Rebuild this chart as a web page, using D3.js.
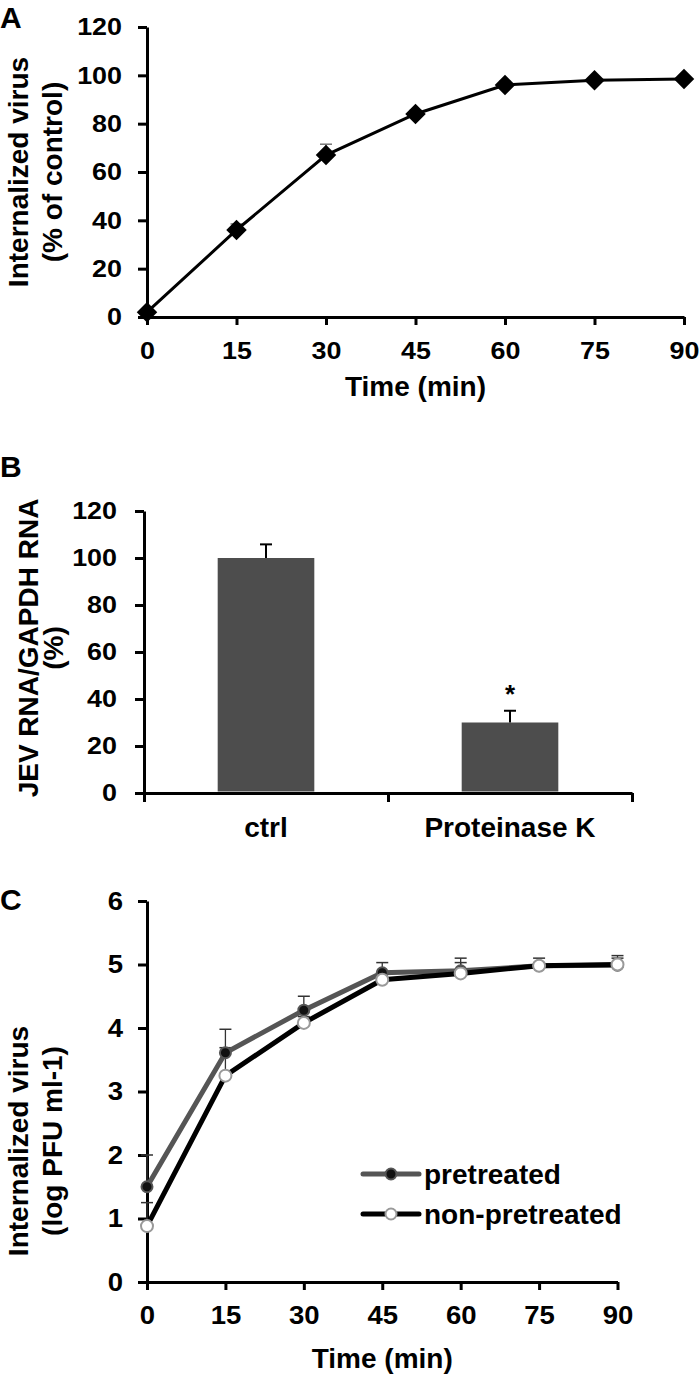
<!DOCTYPE html>
<html>
<head>
<meta charset="utf-8">
<script src="https://cdn.jsdelivr.net/npm/d3@7"></script>
<style>
  html, body { margin: 0; padding: 0; background: #fff; }
  svg text { font-family: "Liberation Sans", Arial, Helvetica, sans-serif; font-weight: bold; fill: #000; }
</style>
</head>
<body>
<svg id="chart" width="700" height="1374"></svg>
<script>
// ---------- Data ----------
const aTime = [0, 15, 30, 45, 60, 75, 90];
const aValues = [2, 36, 67, 84, 96, 98, 98.5];
const aErrors = [0.5, 2.5, 4.5, 1.5, 1.5, 1, 1];
const aYTicks = [0, 20, 40, 60, 80, 100, 120];

const bCategories = ["ctrl", "Proteinase K"];
const bValues = [100, 30];
const bErrors = [5.8, 5];
const bYTicks = [0, 20, 40, 60, 80, 100, 120];

const cTime = [0, 15, 30, 45, 60, 75, 90];
const cPretreated = [1.5, 3.61, 4.28, 4.87, 4.9, 4.98, 4.99];
const cPretreatedErr = [0.5, 0.37, 0.22, 0.16, 0.2, 0.12, 0.15];
const cNonPretreated = [0.88, 3.25, 4.08, 4.76, 4.86, 4.98, 5.0];
const cNonPretreatedErr = [0.37, 0.44, 0.1, 0.1, 0.17, 0.05, 0.1];
const cYTicks = [0, 1, 2, 3, 4, 5, 6];
const timeTicks = [0, 15, 30, 45, 60, 75, 90];

const svg = d3.select("#chart");

// axis styling; tick labels are slightly stretched horizontally like the original
function styleAxis(g, fontSize, stretch) {
  g.attr("font-size", fontSize).attr("font-family", "'Liberation Sans', Arial, sans-serif");
  g.select(".domain").attr("stroke", "#000").attr("stroke-width", 3);
  g.selectAll(".tick line").attr("stroke", "#000").attr("stroke-width", 3);
  g.selectAll(".tick text").attr("font-size", fontSize)
    .attr("font-weight", "bold").attr("fill", "#000")
    .attr("x", function () { return (+this.getAttribute("x") || 0) / stretch; })
    .attr("transform", `scale(${stretch},1)`);
}

function yTitle(g, lines, xs, cy) {
  lines.forEach((t, i) => {
    g.append("text")
      .attr("transform", `translate(${xs[i]},${cy}) rotate(-90)`)
      .attr("text-anchor", "middle")
      .attr("font-size", 28)
      .text(t);
  });
}

// ---------- Panel A ----------
{
  const g = svg.append("g");
  const x = d3.scaleLinear().domain([0, 90]).range([147, 684]);
  const y = d3.scaleLinear().domain([0, 120]).range([317, 27]);

  g.append("text").attr("x", 0).attr("y", 28).attr("font-size", 30).text("A");

  const ya = g.append("g").attr("transform", `translate(${x(0)},0)`)
    .call(d3.axisLeft(y).tickValues(aYTicks).tickFormat(d3.format("d")).tickSize(9).tickSizeOuter(0).tickPadding(16));
  styleAxis(ya, 24, 1.12);
  const xa = g.append("g").attr("transform", `translate(0,${y(0)})`)
    .call(d3.axisBottom(x).tickValues(timeTicks).tickFormat(d3.format("d")).tickSize(8).tickSizeOuter(0).tickPadding(17));
  styleAxis(xa, 24, 1.12);

  yTitle(g, ["Internalized virus", "(% of control)"], [28, 62], 172);
  g.append("text").attr("x", (x(0) + x(90)) / 2).attr("y", 396)
    .attr("text-anchor", "middle").attr("font-size", 28).text("Time (min)");

  // error bars
  aTime.forEach((t, i) => {
    const top = y(aValues[i] + aErrors[i]);
    g.append("line").attr("x1", x(t)).attr("x2", x(t)).attr("y1", y(aValues[i])).attr("y2", top)
      .attr("stroke", "#777").attr("stroke-width", 1.5);
    g.append("line").attr("x1", x(t) - 6).attr("x2", x(t) + 6).attr("y1", top).attr("y2", top)
      .attr("stroke", "#777").attr("stroke-width", 1.5);
  });

  const line = d3.line().x((d, i) => x(aTime[i])).y(d => y(d));
  g.append("path").datum(aValues).attr("d", line)
    .attr("fill", "none").attr("stroke", "#000").attr("stroke-width", 3);

  g.selectAll(".dm").data(aValues).enter().append("path")
    .attr("d", d3.symbol().type(d3.symbolSquare).size(210))
    .attr("transform", (d, i) => `translate(${x(aTime[i])},${y(d)}) rotate(45)`)
    .attr("fill", "#000");
}

// ---------- Panel B ----------
{
  const g = svg.append("g");
  const x = d3.scaleBand().domain(bCategories).range([144, 632]).paddingInner(0).paddingOuter(0);
  const y = d3.scaleLinear().domain([0, 120]).range([793, 511]);

  g.append("text").attr("x", 0).attr("y", 477).attr("font-size", 30).text("B");

  const ya = g.append("g").attr("transform", `translate(${x.range()[0]},0)`)
    .call(d3.axisLeft(y).tickValues(bYTicks).tickFormat(d3.format("d")).tickSize(9).tickSizeOuter(0).tickPadding(18));
  styleAxis(ya, 24, 1.12);

  // x axis: ticks at band boundaries
  const boundaries = [0, 1, 2];
  const xb = d3.scaleLinear().domain([0, 2]).range(x.range());
  const xa = g.append("g").attr("transform", `translate(0,${y(0)})`)
    .call(d3.axisBottom(xb).tickValues(boundaries).tickSize(9).tickSizeOuter(0).tickFormat(""));
  styleAxis(xa, 24, 1);

  // category labels
  g.selectAll(".cat").data(bCategories).enter().append("text")
    .attr("x", d => x(d) + x.bandwidth() / 2).attr("y", 837)
    .attr("text-anchor", "middle").attr("font-size", 28).text(d => d);

  const bw = x.bandwidth() * 0.396;
  g.selectAll(".bar").data(bValues).enter().append("rect")
    .attr("x", (d, i) => x(bCategories[i]) + x.bandwidth() / 2 - bw / 2)
    .attr("width", bw)
    .attr("y", d => y(d))
    .attr("height", d => y(0) - y(d) - 1.5)
    .attr("fill", "#4d4d4d");

  bValues.forEach((v, i) => {
    const cx = x(bCategories[i]) + x.bandwidth() / 2;
    const top = y(v + bErrors[i]);
    g.append("line").attr("x1", cx).attr("x2", cx).attr("y1", y(v)).attr("y2", top)
      .attr("stroke", "#000").attr("stroke-width", 2);
    g.append("line").attr("x1", cx - 6).attr("x2", cx + 6).attr("y1", top).attr("y2", top)
      .attr("stroke", "#000").attr("stroke-width", 2);
  });

  // significance marker
  const pk = bCategories[1];
  g.append("text").attr("x", x(pk) + x.bandwidth() / 2).attr("y", 703)
    .attr("text-anchor", "middle").attr("font-size", 26).text("*");

  yTitle(g, ["JEV RNA/GAPDH RNA", "(%)"], [38, 63], 648);
}

// ---------- Panel C ----------
{
  const g = svg.append("g");
  const x = d3.scaleLinear().domain([0, 90]).range([147, 617.5]);
  const y = d3.scaleLinear().domain([0, 6]).range([1282, 901]);

  g.append("text").attr("x", 0).attr("y", 910).attr("font-size", 30).text("C");

  const ya = g.append("g").attr("transform", `translate(${x(0)},0)`)
    .call(d3.axisLeft(y).tickValues(cYTicks).tickFormat(d3.format("d")).tickSize(9).tickSizeOuter(0).tickPadding(15));
  styleAxis(ya, 25, 1.1);
  const xa = g.append("g").attr("transform", `translate(0,${y(0)})`)
    .call(d3.axisBottom(x).tickValues(timeTicks).tickFormat(d3.format("d")).tickSize(8).tickSizeOuter(0).tickPadding(16));
  styleAxis(xa, 25, 1.1);

  yTitle(g, ["Internalized virus", "(log PFU ml-1)"], [28, 62], 1141);
  g.append("text").attr("x", (x(0) + x(90)) / 2).attr("y", 1368)
    .attr("text-anchor", "middle").attr("font-size", 28).text("Time (min)");

  function errBars(vals, errs, color) {
    cTime.forEach((t, i) => {
      const top = y(vals[i] + errs[i]);
      g.append("line").attr("x1", x(t)).attr("x2", x(t)).attr("y1", y(vals[i])).attr("y2", top)
        .attr("stroke", color).attr("stroke-width", 1.3);
      g.append("line").attr("x1", x(t) - 6).attr("x2", x(t) + 6).attr("y1", top).attr("y2", top)
        .attr("stroke", color).attr("stroke-width", 1.5);
    });
  }
  const line = d3.line().x((d, i) => x(cTime[i])).y(d => y(d));

  errBars(cPretreated, cPretreatedErr, "#333");
  errBars(cNonPretreated, cNonPretreatedErr, "#333");

  g.append("path").datum(cPretreated).attr("d", line)
    .attr("fill", "none").attr("stroke", "#555").attr("stroke-width", 5);
  g.append("path").datum(cNonPretreated).attr("d", line)
    .attr("fill", "none").attr("stroke", "#000").attr("stroke-width", 5);

  g.selectAll(".pp").data(cPretreated).enter().append("circle")
    .attr("cx", (d, i) => x(cTime[i])).attr("cy", d => y(d)).attr("r", 5.5)
    .attr("fill", "#111").attr("stroke", "#555").attr("stroke-width", 2);
  g.selectAll(".np").data(cNonPretreated).enter().append("circle")
    .attr("cx", (d, i) => x(cTime[i])).attr("cy", d => y(d)).attr("r", 6)
    .attr("fill", "#fff").attr("stroke", "#999").attr("stroke-width", 2);

  // legend
  const legend = [
    { label: "pretreated", stroke: "#555", fill: "#111", mstroke: "#555", y: 1174 },
    { label: "non-pretreated", stroke: "#000", fill: "#fff", mstroke: "#999", y: 1214 }
  ];
  legend.forEach(d => {
    g.append("line").attr("x1", 363).attr("x2", 419).attr("y1", d.y).attr("y2", d.y)
      .attr("stroke", d.stroke).attr("stroke-width", 5).attr("stroke-linecap", "round");
    g.append("circle").attr("cx", 391).attr("cy", d.y).attr("r", 5.5)
      .attr("fill", d.fill).attr("stroke", d.mstroke).attr("stroke-width", 2);
    g.append("text").attr("x", 424).attr("y", d.y + 10).attr("font-size", 28).text(d.label);
  });
}
</script>
</body>
</html>
